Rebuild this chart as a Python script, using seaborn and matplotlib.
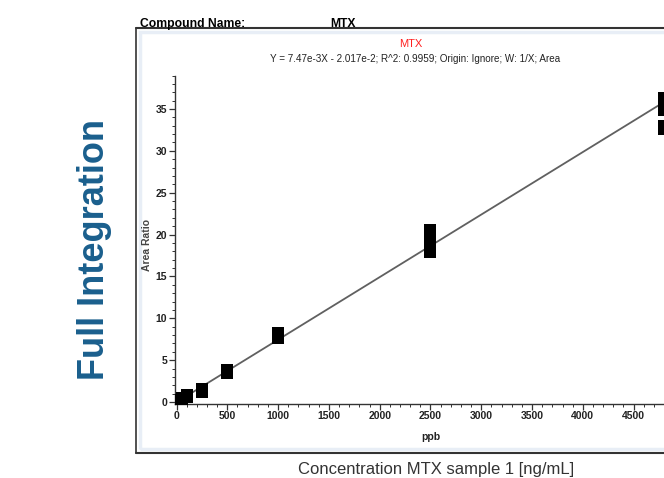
import matplotlib
matplotlib.use("Agg")
import matplotlib.pyplot as plt
from matplotlib.ticker import MultipleLocator
from matplotlib.patches import Rectangle
from matplotlib.lines import Line2D
import pandas as pd
import seaborn as sns

#Calibration standards
conc = [5, 5, 10, 10, 25, 25, 50, 50, 100, 100,
        250, 250, 500, 500, 1000, 1000,
        2500, 2500, 2500, 2500,
        4800, 4800, 4800, 4800, 4800]
ratio = [-0.1, 0.05, 0.06, 0.1, 0.15, 0.2, 0.35, 0.45, 0.65, 0.8,
         1.2, 1.5, 3.5, 3.85, 7.6, 8.2,
         17.9, 18.6, 19.4, 20.5,
         36.3, 35.6, 34.9, 33.0, 32.6]

#Fitted line from the equation in the header
slope = 7.47e-3
intercept = -2.017e-2
fit_x = [0, 5000]
fit_y = [slope * v + intercept for v in fit_x]

x_ticks = [0, 500, 1000, 1500, 2000, 2500, 3000, 3500, 4000, 4500]
y_ticks = [0, 5, 10, 15, 20, 25, 30, 35]

df = pd.DataFrame({"ppb": conc, "Area Ratio": ratio})
fit_df = pd.DataFrame({"ppb": fit_x, "Area Ratio": fit_y})

sns.set_style("ticks")
plt.rcParams["font.family"] = ["Liberation Sans Narrow", "Liberation Sans", "DejaVu Sans"]

W, H = 664, 478
fig = plt.figure(figsize=(W / 100, H / 100), dpi=100)

#Plot area (extends past the right edge like the screenshot)
ax_left, ax_bottom_px, ax_top_px = 175, 403.7, 75.5
ax = fig.add_axes([ax_left / W, (H - ax_bottom_px) / H, 545 / W, (ax_bottom_px - ax_top_px) / H])
ax.set_facecolor("none")

sns.lineplot(data=fit_df, x="ppb", y="Area Ratio", ax=ax, color="#606060", linewidth=1.3)
sns.scatterplot(data=df, x="ppb", y="Area Ratio", ax=ax, marker="s", s=72,
                color="black", edgecolor="black", linewidth=0, zorder=3)

ax.set_xlim(-15, 5350)
ax.set_ylim(-0.2, 39)
ax.set_xticks(x_ticks)
ax.set_yticks(y_ticks)
ax.xaxis.set_minor_locator(MultipleLocator(100))
ax.yaxis.set_minor_locator(MultipleLocator(1))
ax.tick_params(axis="both", which="major", length=4, width=0.9, color="#333333",
               labelsize=7.5, labelcolor="#222222", pad=1.5)
ax.tick_params(axis="both", which="minor", length=2.5, width=0.7, color="#333333")
for lab in ax.get_xticklabels() + ax.get_yticklabels():
    lab.set_fontweight("bold")
for side in ["top", "right"]:
    ax.spines[side].set_visible(False)
for side in ["left", "bottom"]:
    ax.spines[side].set_linewidth(1.0)
    ax.spines[side].set_color("#333333")
ax.set_xlabel("")
ax.set_ylabel("")

#Labels placed like the report
fig.text(431 / W, 1 - 437 / H, "ppb", ha="center", va="center", fontsize=7.5,
         color="#222222", fontweight="bold")
fig.text(147 / W, 1 - 245 / H, "Area Ratio", ha="center", va="center", rotation=90,
         fontsize=7.5, color="#444444", fontweight="bold")

#Report frame
frame = "#333333"
fig.add_artist(Line2D([136 / W, 1], [1 - 28 / H, 1 - 28 / H], color=frame, lw=1.5))
fig.add_artist(Line2D([136 / W, 136 / W], [1 - 28 / H, 1 - 453 / H], color=frame, lw=1.2))
fig.add_artist(Line2D([136 / W, 1], [1 - 453 / H, 1 - 453 / H], color=frame, lw=1.5))
fig.add_artist(Rectangle((140 / W, 1 - 449 / H), 540 / W, 417 / H, fill=False,
                         edgecolor="#e8eef6", lw=2.5, transform=fig.transFigure, zorder=0))

fig.text(140 / W, 1 - 27 / H, "Compound Name:", ha="left", va="baseline",
         fontsize=8.7, fontweight="bold", color="black")
fig.text(330 / W, 1 - 27 / H, "MTX", ha="left", va="baseline",
         fontsize=8.7, fontweight="bold", color="black")
fig.text(411 / W, 1 - 44 / H, "MTX", ha="center", va="center", fontsize=8, color="#ff2020")
fig.text(415 / W, 1 - 59 / H,
         "Y = 7.47e-3X - 2.017e-2; R^2: 0.9959; Origin: Ignore; W: 1/X; Area",
         ha="center", va="center", fontsize=7.1, color="#222222")

fig.text(95 / W, 1 - 250 / H, "Full Integration", ha="center", va="center", rotation=90,
         fontsize=26, fontweight="bold", color="#1a5f8d", family=["Liberation Sans", "DejaVu Sans"])
fig.text(436 / W, 1 - 474 / H, "Concentration MTX sample 1 [ng/mL]", ha="center",
         va="baseline", fontsize=12, color="#333333", family=["Liberation Sans", "DejaVu Sans"])

fig.savefig("out.png", dpi=100)
